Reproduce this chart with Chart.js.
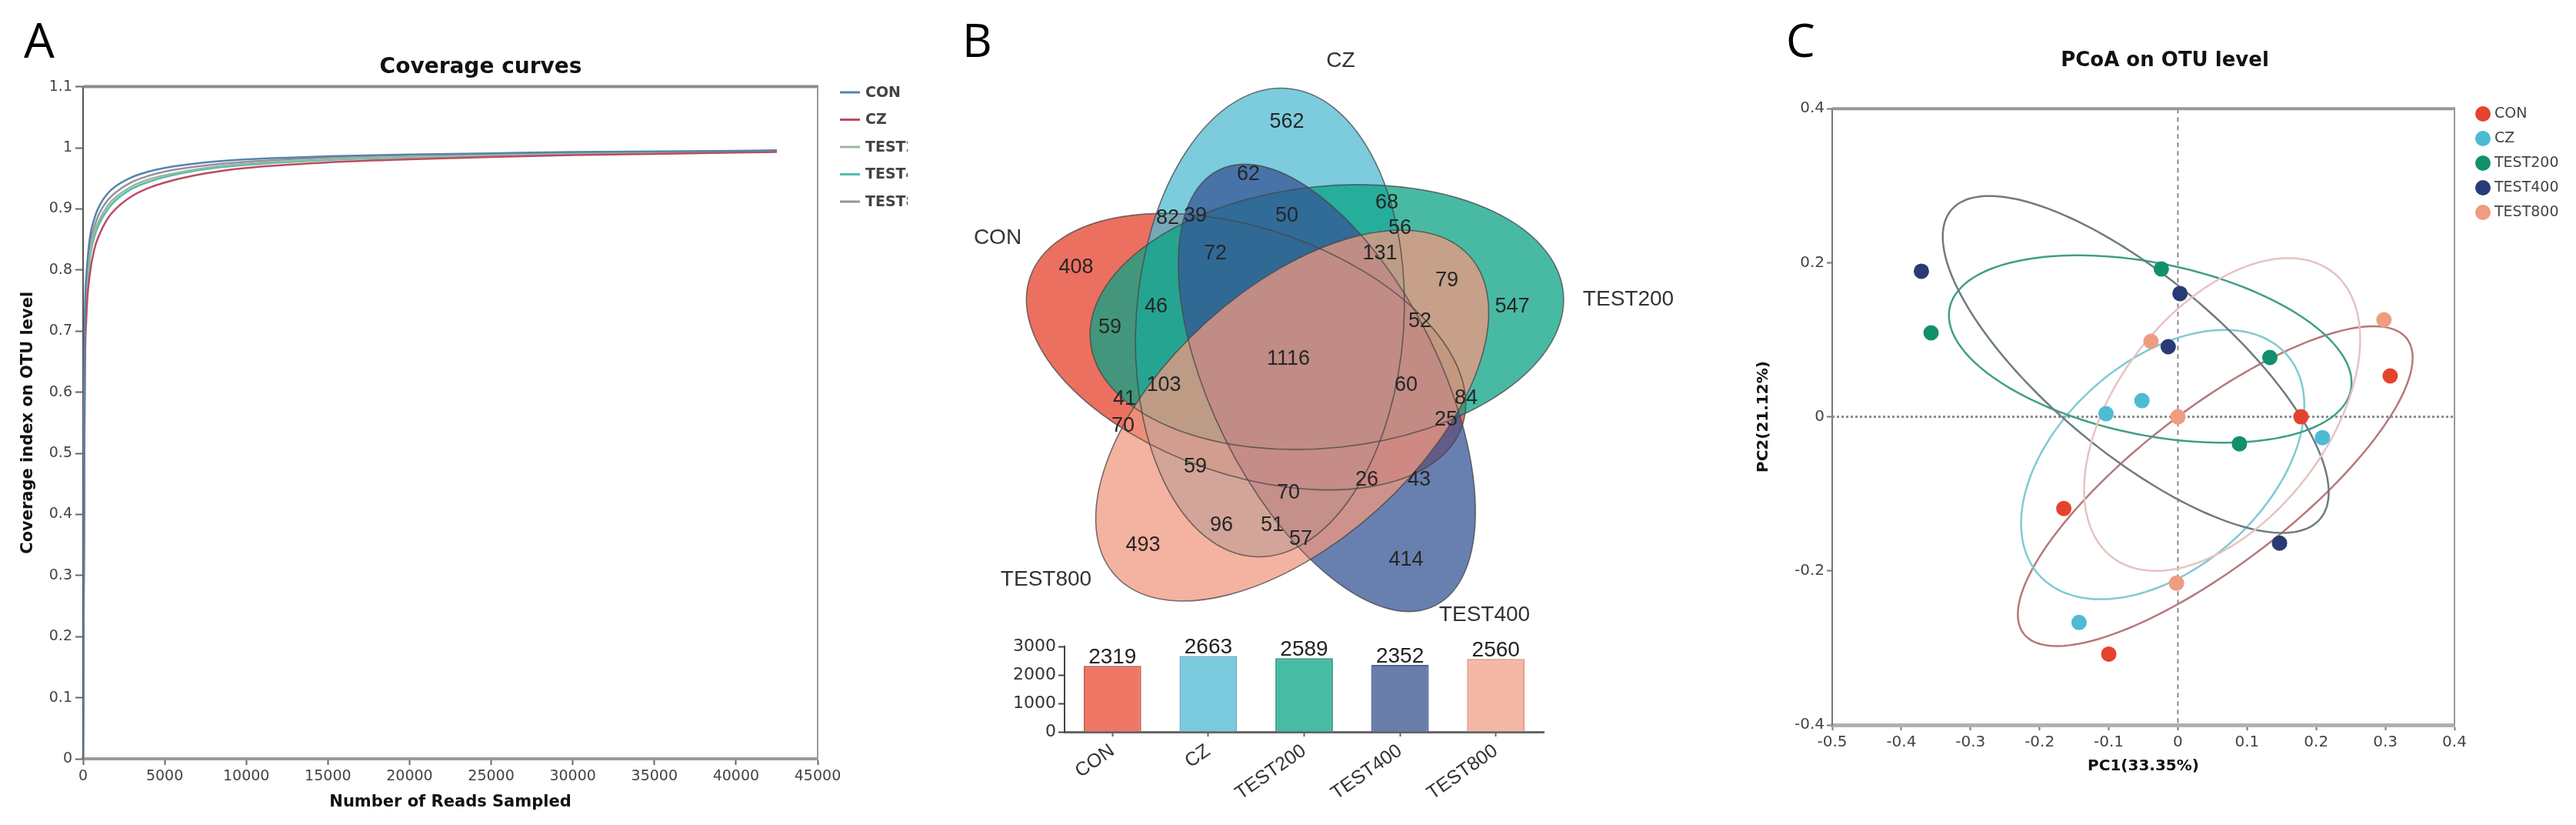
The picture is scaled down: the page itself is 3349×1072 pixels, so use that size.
<!DOCTYPE html>
<html>
<head>
<meta charset="utf-8">
<script src="https://cdn.jsdelivr.net/npm/chart.js@4.4.1/dist/chart.umd.min.js"></script>
<style>
	html, body { margin: 0; padding: 0; background: #fff; }
	body { width: 3349px; height: 1072px; position: relative; overflow: hidden; }
	.panel { position: absolute; overflow: hidden; }
	.letter { position: absolute; font-family: "Open Sans", sans-serif; line-height: 1; color: #000; }
</style>
</head>
<body>
<div class="letter" style="left:31px;top:19px;font-size:63px">A</div>
<div class="letter" style="left:1251px;top:21px;font-size:60px">B</div>
<div class="letter" style="left:2322px;top:21px;font-size:60px">C</div>

<div class="panel" style="left:0;top:0;width:1180px;height:1072px"><canvas id="coverage" width="1250" height="1072"></canvas></div>
<div class="panel" style="left:1200px;top:0;width:1050px;height:820px"><canvas id="venn" width="1050" height="820"></canvas></div>
<div class="panel" style="left:1300px;top:800px;width:760px;height:272px"><canvas id="otuBar" width="760" height="272"></canvas></div>
<div class="panel" style="left:2250px;top:0;width:1099px;height:1072px"><canvas id="pcoa" width="1099" height="1072"></canvas></div>

<script>
const SANS = "'DejaVu Sans', sans-serif";
const ARIAL = "'Liberation Sans', Arial, sans-serif";

const groups = ["CON", "CZ", "TEST200", "TEST400", "TEST800"];

// A - coverage curves
const readsSampled = [0, 100, 200, 400, 700, 1000, 1500, 2000, 3000, 4000, 5000, 7500, 10000, 15000, 20000, 25000, 30000, 35000, 40000, 42500];
const covCON = [0, 0.70, 0.79, 0.85, 0.885, 0.905, 0.925, 0.937, 0.952, 0.961, 0.967, 0.976, 0.981, 0.986, 0.989, 0.991, 0.993, 0.994, 0.995, 0.996];
const covCZ = [0, 0.60, 0.72, 0.79, 0.835, 0.858, 0.884, 0.900, 0.921, 0.934, 0.943, 0.958, 0.967, 0.976, 0.981, 0.985, 0.988, 0.990, 0.992, 0.993];
const covTEST200 = [0, 0.65, 0.76, 0.825, 0.862, 0.882, 0.905, 0.919, 0.937, 0.948, 0.955, 0.967, 0.974, 0.981, 0.985, 0.988, 0.990, 0.992, 0.993, 0.994];
const covTEST400 = [0, 0.63, 0.745, 0.815, 0.855, 0.876, 0.899, 0.914, 0.933, 0.944, 0.952, 0.965, 0.972, 0.980, 0.984, 0.987, 0.990, 0.992, 0.993, 0.994];
const covTEST800 = [0, 0.67, 0.77, 0.835, 0.872, 0.893, 0.914, 0.927, 0.944, 0.954, 0.961, 0.971, 0.977, 0.984, 0.988, 0.990, 0.992, 0.993, 0.994, 0.995];
const yTicksA = [0, 0.1, 0.2, 0.3, 0.4, 0.5, 0.6, 0.7, 0.8, 0.9, 1, 1.1];

// B - venn counts and OTU totals
const vennCounts = [562, 62, 68, 82, 39, 50, 56, 408, 72, 131, 79, 46, 547, 59, 52, 1116, 103, 60, 41, 84, 70, 25, 59, 26, 43, 70, 96, 51, 57, 493, 414];
const otuTotals = [2319, 2663, 2589, 2352, 2560];

// C - PCoA sample scores
const conPC1 = [0.307, 0.178, -0.165, -0.100];
const conPC2 = [0.053, 0.000, -0.119, -0.308];
const czPC1 = [-0.052, -0.104, 0.209, -0.143];
const czPC2 = [0.021, 0.004, -0.027, -0.267];
const t200PC1 = [-0.357, -0.024, 0.133, 0.089];
const t200PC2 = [0.109, 0.192, 0.077, -0.035];
const t400PC1 = [-0.371, 0.003, -0.014, 0.147];
const t400PC2 = [0.189, 0.160, 0.091, -0.164];
const t800PC1 = [-0.039, 0.298, 0.000, -0.002];
const t800PC2 = [0.098, 0.126, 0.000, -0.216];

// venn layout (diagram frame, same units as the panel)
const vennSpotX = [1673, 1623, 1803, 1518, 1554, 1673, 1820, 1399, 1580, 1794, 1881, 1503, 1966, 1443, 1846, 1675, 1513, 1828, 1462, 1906, 1460, 1880, 1554, 1777, 1845, 1675, 1588, 1654, 1691, 1486, 1828];
const vennSpotY = [159, 227, 264, 284, 281, 281, 297, 348, 330, 330, 365, 399, 399, 426, 418, 467, 501, 501, 519, 518, 554, 546, 607, 624, 624, 641, 683, 683, 701, 709, 728];
const vennNameX = [1297, 1743, 2117, 1930, 1360];
const vennNameY = [309, 79, 389, 799, 753];
const vennShapes = [
	{ cx: 1620, cy: 457, rx: 297, ry: 160, rot: 19, fill: "rgba(230, 64, 43, 0.75)" },
	{ cx: 1651, cy: 419, rx: 305, ry: 174, rot: -86, fill: "rgba(80, 187, 211, 0.75)" },
	{ cx: 1725, cy: 412, rx: 309, ry: 170, rot: -6, fill: "rgba(11, 163, 134, 0.75)" },
	{ cx: 1725, cy: 504, rx: 316, ry: 148, rot: 63.6, fill: "rgba(54, 86, 150, 0.75)" },
	{ cx: 1680, cy: 540, rx: 310, ry: 165, rot: -42, fill: "rgba(240, 152, 128, 0.75)" },
];

// PCoA group ellipses: centre, semi-axes, angle
const ellipseCON = [0.054, -0.09, 0.337, 0.105, 34];
const ellipseCZ = [-0.022, -0.062, 0.23, 0.14, 35];
const ellipseTEST200 = [-0.04, 0.088, 0.295, 0.112, -10];
const ellipseTEST400 = [-0.061, 0.068, 0.334, 0.119, -36];
const ellipseTEST800 = [0.064, 0.003, 0.245, 0.145, 46];

function fmt1(value) {
	return String(Math.round(value * 10) / 10);
}

function plain(value) {
	return String(value);
}

function pairs(xs, ys) {
	return xs.map((x, i) => ({ x: x, y: ys[i] }));
}

var framePlugin = {
	id: "frame",
	afterDraw(chart, args, opts) {
		const { ctx, chartArea: a } = chart;
		ctx.save();
		ctx.strokeStyle = opts.topColor;
		ctx.lineWidth = opts.topWidth;
		ctx.beginPath();
		ctx.moveTo(a.left, a.top);
		ctx.lineTo(a.right + opts.rightWidth / 2, a.top);
		ctx.stroke();
		ctx.strokeStyle = opts.rightColor;
		ctx.lineWidth = opts.rightWidth;
		ctx.beginPath();
		ctx.moveTo(a.right, a.top);
		ctx.lineTo(a.right, a.bottom);
		ctx.stroke();
		ctx.restore();
	},
};

var lineLegend = {
	id: "lineLegend",
	afterDraw(chart, args, opts) {
		const ctx = chart.ctx;
		ctx.save();
		ctx.font = "bold 19px " + SANS;
		ctx.textBaseline = "middle";
		chart.data.datasets.forEach((ds, i) => {
			const y = opts.top + i * opts.gap;
			ctx.strokeStyle = ds.borderColor;
			ctx.lineWidth = 3;
			ctx.beginPath();
			ctx.moveTo(opts.left, y);
			ctx.lineTo(opts.left + 26, y);
			ctx.stroke();
			ctx.fillStyle = "#444";
			ctx.fillText(ds.label, opts.left + 33, y + 1);
		});
		ctx.restore();
	},
};

var dotLegend = {
	id: "dotLegend",
	afterDraw(chart, args, opts) {
		const ctx = chart.ctx;
		ctx.save();
		ctx.font = "19px " + SANS;
		ctx.textBaseline = "middle";
		chart.data.datasets.forEach((ds, i) => {
			const y = opts.top + i * opts.gap;
			ctx.fillStyle = ds.backgroundColor;
			ctx.beginPath();
			ctx.arc(opts.left, y, 10, 0, Math.PI * 2);
			ctx.fill();
			ctx.fillStyle = "#444";
			ctx.fillText(ds.label, opts.left + 15, y);
		});
		ctx.restore();
	},
};

var coverageEl = document.getElementById("coverage");
var coverageChart = new Chart(coverageEl, {
	type: "line",
	data: {
		datasets: [
			{ label: "CON", data: pairs(readsSampled, covCON), borderColor: "#5584ad" },
			{ label: "CZ", data: pairs(readsSampled, covCZ), borderColor: "#bb4c60" },
			{ label: "TEST200", data: pairs(readsSampled, covTEST200), borderColor: "#9db59d" },
			{ label: "TEST400", data: pairs(readsSampled, covTEST400), borderColor: "#50beb2" },
			{ label: "TEST800", data: pairs(readsSampled, covTEST800), borderColor: "#93929f" },
		].map((ds) => Object.assign(ds, { borderWidth: 2.5, pointRadius: 0, cubicInterpolationMode: "monotone", fill: false })),
	},
	options: {
		responsive: false,
		animation: false,
		events: [],
		layout: { padding: 0 },
		scales: {
			x: {
				type: "linear",
				min: 0,
				max: 45000,
				ticks: { stepSize: 5000, callback: plain, maxRotation: 0, autoSkip: false, padding: 4, color: "#444", font: { family: SANS, size: 19 } },
				grid: { drawOnChartArea: false, tickLength: 8, tickWidth: 2, color: "#666" },
				border: { color: "#9a9a9a", width: 4 },
				title: { display: true, text: "Number of Reads Sampled", color: "#111", font: { family: SANS, size: 21, weight: "bold" }, padding: { top: 0, bottom: 17 } },
				afterFit: (s) => { s.height = 86; },
			},
			y: {
				min: 0,
				max: 1.1,
				afterBuildTicks: (s) => { s.ticks = yTicksA.map((v) => ({ value: v })); },
				ticks: { callback: fmt1, padding: 4, color: "#444", font: { family: SANS, size: 19 } },
				grid: { drawOnChartArea: false, tickLength: 10, tickWidth: 2, color: "#666" },
				border: { color: "#555", width: 2 },
				title: { display: true, text: "Coverage index on OTU level", color: "#111", font: { family: SANS, size: 21, weight: "bold" }, padding: { top: 24, bottom: 0 } },
				afterFit: (s) => { s.width = 108; },
			},
			yR: {
				position: "right",
				ticks: { display: false },
				grid: { display: false },
				border: { display: false },
				afterFit: (s) => { s.width = 187; },
			},
		},
		plugins: {
			legend: { display: false },
			tooltip: { enabled: false },
			title: { display: true, text: "Coverage curves", color: "#111", font: { family: SANS, size: 28, weight: "bold" }, padding: { top: 71, bottom: 8 } },
			frame: { topColor: "#8c8c8c", topWidth: 4, rightColor: "#9a9a9a", rightWidth: 2 },
			lineLegend: { left: 1092, top: 120, gap: 35.5 },
		},
	},
	plugins: [framePlugin, lineLegend],
});

var vennPlugin = {
	id: "vennShapes",
	beforeDatasetsDraw(chart) {
		const { ctx, scales: { x, y } } = chart;
		const paths = vennShapes.map((e) => {
			const cx = x.getPixelForValue(e.cx);
			const cy = y.getPixelForValue(e.cy);
			const rx = Math.abs(x.getPixelForValue(e.cx + e.rx) - cx);
			const ry = Math.abs(y.getPixelForValue(e.cy + e.ry) - cy);
			const p = new Path2D();
			p.ellipse(cx, cy, rx, ry, (e.rot * Math.PI) / 180, 0, Math.PI * 2);
			return p;
		});
		ctx.save();
		paths.forEach((p, i) => {
			ctx.fillStyle = vennShapes[i].fill;
			ctx.fill(p);
		});
		ctx.strokeStyle = "rgba(70, 70, 70, 0.75)";
		ctx.lineWidth = 1.6;
		paths.forEach((p) => ctx.stroke(p));
		ctx.restore();
	},
	afterDatasetsDraw(chart) {
		const ctx = chart.ctx;
		ctx.save();
		ctx.textAlign = "center";
		ctx.textBaseline = "middle";
		chart.data.datasets.forEach((ds, d) => {
			const meta = chart.getDatasetMeta(d);
			ctx.font = (d === 0 ? "27px " : "28px ") + ARIAL;
			ctx.fillStyle = d === 0 ? "#262626" : "#333";
			meta.data.forEach((pt, i) => ctx.fillText(ds.texts[i], pt.x, pt.y));
		});
		ctx.restore();
	},
};

var vennEl = document.getElementById("venn");
var vennChart = new Chart(vennEl, {
	type: "scatter",
	data: {
		datasets: [
			{ label: "counts", data: pairs(vennSpotX, vennSpotY), texts: vennCounts.map(String), pointRadius: 0 },
			{ label: "sets", data: pairs(vennNameX, vennNameY), texts: groups, pointRadius: 0 },
		],
	},
	options: {
		responsive: false,
		animation: false,
		events: [],
		layout: { padding: 0 },
		scales: {
			x: { type: "linear", min: 1200, max: 2250, display: false },
			y: { type: "linear", min: 0, max: 820, reverse: true, display: false },
		},
		plugins: { legend: { display: false }, tooltip: { enabled: false } },
	},
	plugins: [vennPlugin],
});

var barValues = {
	id: "barValues",
	afterDatasetsDraw(chart) {
		const ctx = chart.ctx;
		const meta = chart.getDatasetMeta(0);
		ctx.save();
		ctx.font = "28px " + ARIAL;
		ctx.fillStyle = "#222";
		ctx.textAlign = "center";
		ctx.textBaseline = "alphabetic";
		meta.data.forEach((bar, i) => ctx.fillText(String(otuTotals[i]), bar.x, bar.y - 3));
		ctx.restore();
	},
};

var otuBarEl = document.getElementById("otuBar");
var otuBarChart = new Chart(otuBarEl, {
	type: "bar",
	data: {
		labels: groups,
		datasets: [
			{
				data: otuTotals,
				backgroundColor: ["#ee7766", "#7acade", "#48bba5", "#697daa", "#f5b7a5"],
				borderColor: ["#c95d4e", "#5cadc2", "#2f9b86", "#4f618e", "#d99c8a"],
				borderWidth: 2,
				barPercentage: 0.6,
				categoryPercentage: 1,
			},
		],
	},
	options: {
		responsive: false,
		animation: false,
		events: [],
		layout: { padding: { top: 40, right: 53, left: 0, bottom: 0 } },
		scales: {
			x: {
				ticks: { minRotation: 35, maxRotation: 35, padding: 4, color: "#333", font: { family: ARIAL, size: 25 } },
				grid: { offset: false, drawOnChartArea: false, tickLength: 6, tickWidth: 2, color: "#666" },
				border: { color: "#666", width: 3 },
				afterFit: (s) => { s.height = 121; },
			},
			y: {
				min: 0,
				max: 3000,
				ticks: { stepSize: 1000, callback: plain, padding: 3, color: "#333", font: { family: SANS, size: 22 } },
				grid: { drawOnChartArea: false, tickLength: 8, tickWidth: 2, color: "#444" },
				border: { color: "#444", width: 2 },
				afterFit: (s) => { s.width = 84; },
			},
		},
		plugins: { legend: { display: false }, tooltip: { enabled: false } },
	},
	plugins: [barValues],
});

var zeroLines = {
	id: "zeroLines",
	beforeDatasetsDraw(chart) {
		const { ctx, chartArea: a, scales: { x, y } } = chart;
		const x0 = x.getPixelForValue(0);
		const y0 = y.getPixelForValue(0);
		ctx.save();
		ctx.strokeStyle = "#8a8a8a";
		ctx.lineWidth = 2;
		ctx.setLineDash([6, 5]);
		ctx.beginPath();
		ctx.moveTo(x0, a.top);
		ctx.lineTo(x0, a.bottom);
		ctx.stroke();
		ctx.lineWidth = 3;
		ctx.setLineDash([3, 3]);
		ctx.beginPath();
		ctx.moveTo(a.left, y0);
		ctx.lineTo(a.right, y0);
		ctx.stroke();
		ctx.restore();
	},
};

var groupEllipses = {
	id: "groupEllipses",
	beforeDatasetsDraw(chart, args, opts) {
		const { ctx, scales: { x, y } } = chart;
		ctx.save();
		ctx.lineWidth = 2.5;
		opts.shapes.forEach(([cx, cy, a, b, deg], k) => {
			const r = (deg * Math.PI) / 180;
			ctx.strokeStyle = opts.colors[k];
			ctx.beginPath();
			for (let s = 0; s <= 180; s++) {
				const t = (s / 180) * Math.PI * 2;
				const ex = cx + a * Math.cos(t) * Math.cos(r) - b * Math.sin(t) * Math.sin(r);
				const ey = cy + a * Math.cos(t) * Math.sin(r) + b * Math.sin(t) * Math.cos(r);
				if (s === 0) ctx.moveTo(x.getPixelForValue(ex), y.getPixelForValue(ey));
				else ctx.lineTo(x.getPixelForValue(ex), y.getPixelForValue(ey));
			}
			ctx.closePath();
			ctx.stroke();
		});
		ctx.restore();
	},
};

var pcoaEl = document.getElementById("pcoa");
var pcoaChart = new Chart(pcoaEl, {
	type: "scatter",
	data: {
		datasets: [
			{ label: "CON", data: pairs(conPC1, conPC2), backgroundColor: "#e4432e" },
			{ label: "CZ", data: pairs(czPC1, czPC2), backgroundColor: "#4dbbd3" },
			{ label: "TEST200", data: pairs(t200PC1, t200PC2), backgroundColor: "#12906b" },
			{ label: "TEST400", data: pairs(t400PC1, t400PC2), backgroundColor: "#283b74" },
			{ label: "TEST800", data: pairs(t800PC1, t800PC2), backgroundColor: "#f09c80" },
		].map((ds) => Object.assign(ds, { pointRadius: 10, borderWidth: 0 })),
	},
	options: {
		responsive: false,
		animation: false,
		events: [],
		layout: { padding: { left: 30, top: 0, right: 0, bottom: 0 } },
		scales: {
			x: {
				type: "linear",
				min: -0.5,
				max: 0.4,
				ticks: { stepSize: 0.1, callback: fmt1, maxRotation: 0, autoSkip: false, padding: 4, color: "#444", font: { family: SANS, size: 20 } },
				grid: { drawOnChartArea: false, tickLength: 7, tickWidth: 2, color: "#777" },
				border: { color: "#b0b0b0", width: 5 },
				title: { display: true, text: "PC1(33.35%)", color: "#111", font: { family: SANS, size: 20, weight: "bold" }, padding: { top: 0, bottom: 64 } },
				afterFit: (s) => { s.height = 130; },
			},
			y: {
				min: -0.4,
				max: 0.4,
				ticks: { stepSize: 0.2, callback: fmt1, padding: 3, color: "#444", font: { family: SANS, size: 20 } },
				grid: { drawOnChartArea: false, tickLength: 7, tickWidth: 2, color: "#777" },
				border: { color: "#777", width: 2 },
				title: { display: true, text: "PC2(21.12%)", color: "#111", font: { family: SANS, size: 20, weight: "bold" }, padding: { top: 1, bottom: 0 } },
				afterFit: (s) => { s.width = 102; },
			},
			yR: {
				position: "right",
				ticks: { display: false },
				grid: { display: false },
				border: { display: false },
				afterFit: (s) => { s.width = 158; },
			},
		},
		plugins: {
			legend: { display: false },
			tooltip: { enabled: false },
			title: { display: true, text: "PCoA on OTU level", color: "#111", font: { family: SANS, size: 26, weight: "bold" }, padding: { top: 64, bottom: 46 } },
			frame: { topColor: "#999", topWidth: 4, rightColor: "#999", rightWidth: 2 },
			groupEllipses: {
				shapes: [ellipseCON, ellipseCZ, ellipseTEST200, ellipseTEST400, ellipseTEST800],
				colors: ["#b8777a", "#7fcad2", "#3f9f88", "#6f7b80", "#e6c3c0"],
			},
			dotLegend: { left: 3228 - 2250, top: 148, gap: 32 },
		},
	},
	plugins: [framePlugin, zeroLines, groupEllipses, dotLegend],
});
</script>
</body>
</html>
